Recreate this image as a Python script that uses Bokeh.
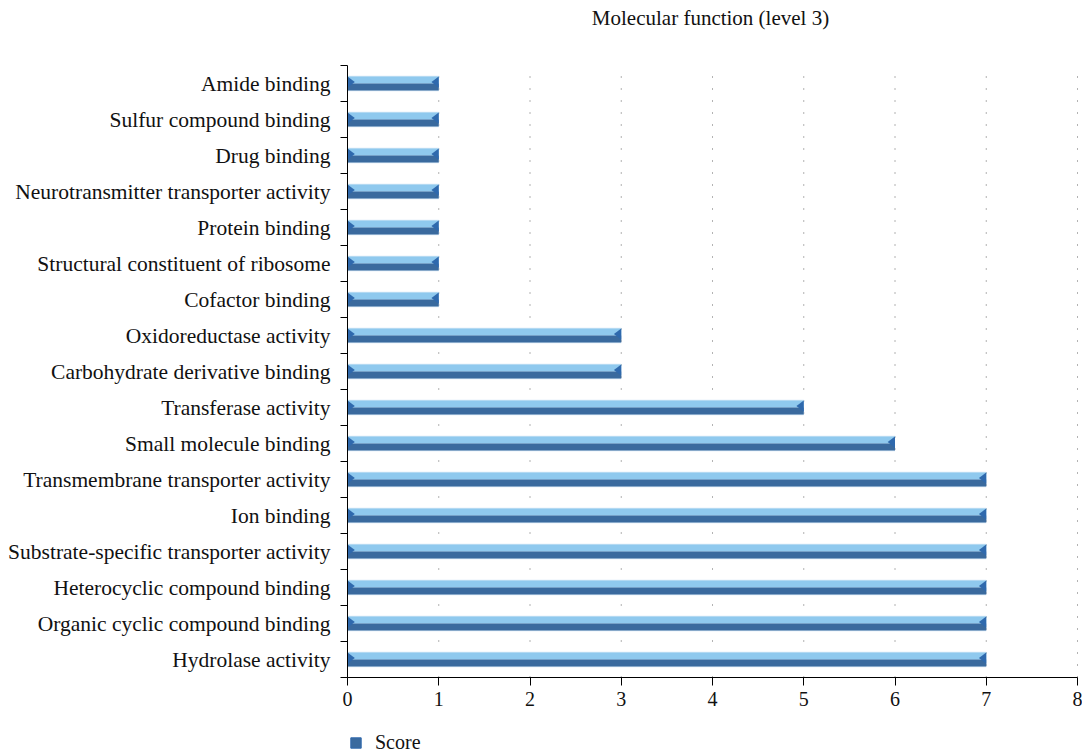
from bokeh.plotting import figure
from bokeh.models import (ColumnDataSource, FixedTicker, Legend, LegendItem, Range1d,
                          Label, LinearAxis)
from bokeh.embed import file_html
from bokeh.resources import INLINE

categories = [
    "Amide binding",
    "Sulfur compound binding",
    "Drug binding",
    "Neurotransmitter transporter activity",
    "Protein binding",
    "Structural constituent of ribosome",
    "Cofactor binding",
    "Oxidoreductase activity",
    "Carbohydrate derivative binding",
    "Transferase activity",
    "Small molecule binding",
    "Transmembrane transporter activity",
    "Ion binding",
    "Substrate-specific transporter activity",
    "Heterocyclic compound binding",
    "Organic cyclic compound binding",
    "Hydrolase activity",
]
scores = [1, 1, 1, 1, 1, 1, 1, 3, 3, 5, 6, 7, 7, 7, 7, 7, 7]
x_ticks = [0, 1, 2, 3, 4, 5, 6, 7, 8]
title_text = "Molecular function (level 3)"
legend_label = "Score"

FONT = "Liberation Serif"
LIGHT = "#8fc9ee"
DARK = "#3a6a9e"
TRI = "#2f69ad"

n = len(categories)
ys = [n - 1 - i for i in range(n)]
bar_h = 0.39
src = ColumnDataSource(dict(y=ys, v=scores, cat=categories))

# layout (pixels): plot area x 347..1077, y 65..677 in a 1082x754 canvas
W, H = 1082, 754
L, R, T, B = 347, 5, 65, 77
x_lo, x_hi = x_ticks[0], x_ticks[-1]
y_lo, y_hi = -0.5, n - 0.5
pxx = (W - L - R) / (x_hi - x_lo)
pxy = (H - T - B) / (y_hi - y_lo)

p = figure(frame_width=W, frame_height=H, output_backend="svg", toolbar_location=None,
           x_range=Range1d(x_lo - L / pxx, x_hi + R / pxx),
           y_range=Range1d(y_lo - B / pxy, y_hi + T / pxy),
           x_axis_location=None, y_axis_location=None, min_border=0)
p.outline_line_color = None
p.background_fill_color = "white"
p.border_fill_color = "white"
p.xgrid.grid_line_color = None
p.ygrid.grid_line_color = None

p.add_layout(Label(x=L + (W - L - R) / 2 - 2, y=H - 17, x_units="screen", y_units="screen",
                   text=title_text, text_align="center", text_baseline="middle",
                   text_font=FONT, text_font_size="21px", text_color="#111111"))

# dotted vertical grid lines
gx = [t for t in x_ticks if t > x_lo]
p.segment(x0=gx, x1=gx, y0=[y_lo] * len(gx), y1=[y_hi] * len(gx),
          line_color="#666666", line_dash="1 11", line_width=1)

# bars: outline, light top half, dark bottom half
p.hbar(y="y", left=0, right="v", height=bar_h + 0.04, source=src,
       fill_color="#d6e8f6", line_color=None)
p.hbar(y=[y + bar_h / 4 for y in ys], left=0, right=scores, height=bar_h / 2,
       fill_color=LIGHT, line_color=None)
p.hbar(y=[y - bar_h / 4 for y in ys], left=0, right=scores, height=bar_h / 2,
       fill_color=DARK, line_color=None)

# bevel triangles at both ends
tw = 0.08
th = bar_h * 0.4
lx, ly, rx, ry = [], [], [], []
for y, v in zip(ys, scores):
    top = y + bar_h / 2
    lx.append([0, tw, 0])
    ly.append([top, top - th, top - 2 * th])
    rx.append([v, v - tw, v])
    ry.append([top, top - th, top - 2 * th])
p.patches(lx, ly, fill_color=TRI, line_color=None)
p.patches(rx, ry, fill_color=TRI, line_color=None)

# x axis fixed at the bottom of the category area
xaxis = LinearAxis(fixed_location=y_lo, ticker=FixedTicker(ticks=x_ticks),
                   bounds=(x_lo, x_hi))
xaxis.axis_line_color = "black"
xaxis.major_tick_in = 0
xaxis.major_tick_out = 8
xaxis.major_tick_line_color = "black"
xaxis.minor_tick_line_color = None
xaxis.major_label_text_font = FONT
xaxis.major_label_text_font_size = "20px"
xaxis.major_label_text_color = "#111111"
xaxis.major_label_standoff = 6
p.add_layout(xaxis, "below")

# y axis fixed at x = 0, category names as labels, boundary ticks as minor ticks
yaxis = LinearAxis(fixed_location=0, bounds=(y_lo, y_hi),
                   ticker=FixedTicker(ticks=ys, minor_ticks=[i - 0.5 for i in range(n + 1)]))
yaxis.major_label_overrides = {y: c for y, c in zip(ys, categories)}
yaxis.major_tick_in = 0
yaxis.major_tick_out = 0
yaxis.minor_tick_in = 0
yaxis.minor_tick_out = 7
yaxis.minor_tick_line_color = "black"
yaxis.axis_line_color = "black"
yaxis.major_label_text_font = FONT
yaxis.major_label_text_font_size = "21.5px"
yaxis.major_label_text_color = "#111111"
yaxis.major_label_standoff = 10
p.add_layout(yaxis, "left")

leg_r = p.quad(left=[-10], right=[-9], bottom=[-10], top=[-9], fill_color=DARK,
               line_color=TRI)
legend = Legend(items=[LegendItem(label=legend_label, renderers=[leg_r])],
                location=(L + 2, 0), orientation="horizontal",
                label_text_font=FONT, label_text_font_size="20px",
                label_text_color="#111111", border_line_color=None,
                background_fill_alpha=0, margin=0, padding=0,
                glyph_width=13, glyph_height=13, label_standoff=13)
p.add_layout(legend)

open("out.html", "w").write(file_html(p, INLINE))
